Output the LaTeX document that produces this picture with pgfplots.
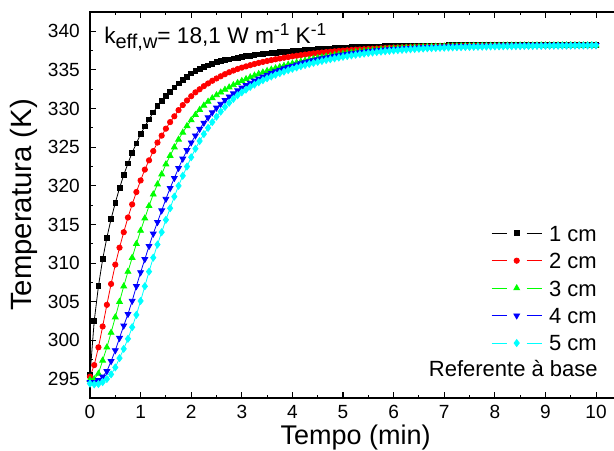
\documentclass[border=0pt]{standalone}
\usepackage{fontspec}
\setmainfont{Liberation Sans}
\usepackage{pgfplots}
\usepackage{pgfplotstable}
\pgfplotsset{compat=1.18}
\definecolor{ored}{RGB}{255,0,0}
\definecolor{ogreen}{RGB}{0,255,0}
\definecolor{oblue}{RGB}{0,0,255}
\definecolor{ocyan}{RGB}{0,255,255}

\pgfplotstableread{
s b r g bl c
0 295.5 295.3 294.9 294.6 294.4
5 302.5 296.8 295.0 294.6 294.3
10 307.0 299.1 295.7 294.85 294.35
15 310.5 301.8 297.4 295.3 294.6
20 313.3 304.6 299.1 296.0 295.0
25 315.7 307.3 301.0 297.3 295.6
30 317.8 309.8 303.0 298.7 296.5
35 319.7 312.0 305.0 300.3 297.7
40 321.4 314.0 307.0 301.9 298.9
45 322.9 315.9 308.9 303.4 300.2
50 324.3 317.6 310.7 305.1 301.7
55 325.5 319.2 312.5 307.0 303.3
60 326.7 320.7 314.2 308.8 305.1
65 327.7 322.1 315.8 310.5 307.0
70 328.6 323.3 317.4 312.2 308.9
75 329.5 324.5 318.9 313.8 310.7
80 330.3 325.6 320.2 315.3 312.4
85 331.0 326.5 321.5 316.8 314.0
90 331.6 327.4 322.8 318.3 315.6
95 332.2 328.25 323.9 319.7 317.1
100 332.75 329.0 325.0 321.0 318.6
105 333.25 329.8 326.0 322.3 320.0
110 333.7 330.45 326.9 323.5 321.3
115 334.15 331.05 327.75 324.6 322.5
120 334.55 331.6 328.5 325.6 323.7
125 334.85 332.1 329.2 326.5 324.8
130 335.15 332.5 329.85 327.35 325.8
135 335.4 332.9 330.4 328.15 326.7
140 335.6 333.25 330.9 328.85 327.5
145 335.8 333.6 331.35 329.5 328.25
150 336.0 333.9 331.75 330.1 328.95
155 336.13 334.18 332.1 330.6 329.6
160 336.25 334.45 332.45 331.1 330.2
165 336.37 334.7 332.75 331.55 330.75
170 336.49 334.92 333.05 331.95 331.25
175 336.6 335.12 333.32 332.35 331.72
180 336.7 335.3 333.58 332.7 332.1
185 336.78 335.46 333.83 333.02 332.45
190 336.86 335.62 334.06 333.32 332.8
195 336.94 335.77 334.28 333.6 333.1
200 337.02 335.91 334.49 333.87 333.4
205 337.09 336.04 334.69 334.12 333.67
210 337.15 336.16 334.88 334.36 333.92
215 337.2 336.27 335.06 334.58 334.15
220 337.25 336.38 335.23 334.79 334.37
225 337.3 336.48 335.39 334.99 334.58
230 337.35 336.58 335.54 335.18 334.78
235 337.4 336.67 335.69 335.36 334.97
240 337.45 336.76 335.83 335.53 335.15
245 337.49 336.84 335.96 335.69 335.32
250 337.53 336.92 336.09 335.84 335.48
255 337.57 336.99 336.21 335.98 335.63
260 337.61 337.06 336.33 336.11 335.77
265 337.65 337.13 336.44 336.24 335.91
270 337.69 337.19 336.55 336.36 336.04
275 337.72 337.25 336.65 336.48 336.16
280 337.75 337.31 336.75 336.59 336.28
285 337.78 337.36 336.84 336.69 336.39
290 337.82 337.41 336.93 336.79 336.5
295 337.86 337.46 337.02 336.88 336.6
300 337.9 337.5 337.1 336.97 336.7
305 337.92 337.54 337.17 337.05 336.79
310 337.94 337.58 337.24 337.13 336.88
315 337.96 337.62 337.31 337.2 336.96
320 337.98 337.65 337.37 337.27 337.04
325 338.0 337.68 337.43 337.34 337.11
330 338.01 337.71 337.49 337.4 337.18
335 338.03 337.74 337.54 337.46 337.25
340 338.04 337.77 337.59 337.51 337.31
345 338.06 337.8 337.64 337.56 337.37
350 338.08 337.83 337.68 337.61 337.42
355 338.09 337.86 337.72 337.65 337.47
360 338.1 337.88 337.76 337.69 337.52
365 338.11 337.9 337.8 337.73 337.56
370 338.12 337.92 337.83 337.76 337.6
375 338.13 337.94 337.86 337.79 337.64
380 338.14 337.96 337.89 337.82 337.68
385 338.15 337.98 337.92 337.85 337.71
390 338.15 338.0 337.94 337.88 337.74
395 338.16 338.01 337.96 337.9 337.77
400 338.16 338.03 337.98 337.92 337.8
405 338.17 338.04 338.0 337.94 337.82
410 338.17 338.06 338.02 337.96 337.84
415 338.18 338.07 338.03 337.98 337.86
420 338.18 338.08 338.05 338.0 337.88
425 338.19 338.09 338.06 338.01 337.9
430 338.19 338.1 338.07 338.03 337.92
435 338.19 338.11 338.08 338.04 337.94
440 338.19 338.12 338.09 338.05 337.95
445 338.19 338.13 338.1 338.06 337.97
450 338.19 338.14 338.11 338.07 337.98
455 338.19 338.14 338.12 338.08 337.99
460 338.19 338.15 338.12 338.09 338.0
465 338.19 338.15 338.13 338.1 338.01
470 338.19 338.16 338.14 338.11 338.02
475 338.19 338.16 338.14 338.12 338.03
480 338.19 338.17 338.15 338.12 338.04
485 338.2 338.18 338.16 338.13 338.05
490 338.2 338.18 338.16 338.13 338.06
495 338.2 338.18 338.17 338.14 338.07
500 338.2 338.18 338.17 338.14 338.07
505 338.2 338.18 338.17 338.15 338.08
510 338.2 338.18 338.18 338.15 338.09
515 338.2 338.18 338.18 338.16 338.1
520 338.2 338.18 338.18 338.16 338.1
525 338.2 338.19 338.18 338.17 338.11
530 338.2 338.19 338.19 338.17 338.12
535 338.2 338.19 338.19 338.17 338.12
540 338.2 338.19 338.19 338.18 338.13
545 338.2 338.19 338.19 338.18 338.13
550 338.2 338.19 338.19 338.18 338.14
555 338.2 338.19 338.2 338.19 338.14
560 338.2 338.19 338.2 338.19 338.15
565 338.2 338.2 338.2 338.19 338.15
570 338.2 338.2 338.2 338.19 338.16
575 338.2 338.2 338.2 338.2 338.16
580 338.2 338.2 338.2 338.2 338.17
585 338.2 338.2 338.2 338.2 338.17
590 338.2 338.2 338.2 338.2 338.18
595 338.2 338.2 338.2 338.2 338.18
600 338.2 338.2 338.2 338.2 338.19
}\datatable

\begin{document}
\begin{tikzpicture}
\begin{axis}[
  scale only axis,
  width=398.5pt, height=289.5pt,
  xmin=0, xmax=10.5, ymin=292.54, ymax=342.5,
  xtick={0,1,...,10}, ytick={295,300,...,340},
  minor x tick num=1, minor y tick num=1,
  tick align=inside,
  major tick length=4.5pt, minor tick length=2.6pt,
  axis line style={line width=1pt},
  tick style={line width=0.8pt, black},
  /pgf/number format/assume math mode=true,
  ticklabel style={font=\fontsize{14.3}{16}\selectfont},
  xticklabel style={inner sep=0pt, anchor=north, yshift=-5.25pt},
  yticklabel style={inner sep=0pt, anchor=east, xshift=-7.5pt},
  xlabel={Tempo (min)}, ylabel={Temperatura (K)},
  every axis x label/.style={at={(axis description cs:0.5,-0.1192)}, anchor=base, font=\fontsize{20.25}{24}\selectfont},
  every axis y label/.style={at={(axis description cs:-0.1101,0.5)}, rotate=90, anchor=base, font=\fontsize{22}{26}\selectfont},
  legend style={draw=none, fill=none, at={(rel axis cs:0.9543,0.448)}, anchor=north east,
    font=\fontsize{16.5}{18}\selectfont, row sep=8.8pt, column sep=5.25pt, inner sep=0pt,
    nodes={inner sep=0pt, text height=11.8pt, text depth=0pt}},
  legend cell align=left,
  legend image code/.code={
    \draw[#1, mark=none] (0pt,0pt) -- (11.25pt,0pt);
    \draw[#1, mark=none] (26.25pt,0pt) -- (37.5pt,0pt);
    \draw[#1, only marks] plot coordinates {(18.75pt,0pt)};
  },
]
\addplot[black, line width=0.6pt, mark=square*, mark size=1.8pt, mark options={solid}]
  table[x expr=\thisrow{s}/60, y=b] {\datatable};
\addlegendentry{1 cm}
\addplot[ored, line width=0.6pt, mark=*, mark size=2pt, mark options={solid}]
  table[x expr=\thisrow{s}/60, y=r] {\datatable};
\addlegendentry{2 cm}
\addplot[ogreen, line width=0.6pt, mark=triangle*, mark size=2.5pt, mark options={solid}]
  table[x expr=\thisrow{s}/60, y=g] {\datatable};
\addlegendentry{3 cm}
\addplot[oblue, line width=0.6pt, mark=triangle*, mark size=2.5pt, mark options={solid, rotate=180}]
  table[x expr=\thisrow{s}/60, y=bl] {\datatable};
\addlegendentry{4 cm}
\addplot[ocyan, line width=0.6pt, mark=diamond*, mark size=2.6pt, mark options={solid}]
  table[x expr=\thisrow{s}/60, y=c] {\datatable};
\addlegendentry{5 cm}
\node[anchor=base east, inner sep=0pt, font=\fontsize{16.5}{18}\selectfont]
  at (rel axis cs:0.956,0.0557) {Referente à base};
\node[anchor=base west, inner sep=0pt, font=\fontsize{17}{20}\selectfont]
  at (rel axis cs:0.02635,0.9189)
  {k\raisebox{-4pt}{\fontsize{15}{15}\selectfont eff,w}= 18,1 W m\raisebox{6pt}{\fontsize{13}{13}\selectfont -1} K\raisebox{6pt}{\fontsize{13}{13}\selectfont -1}};
\end{axis}
\pgfresetboundingbox
\useasboundingbox (-67.5pt,-39pt) rectangle (393pt,298.5pt);
\end{tikzpicture}
\end{document}
